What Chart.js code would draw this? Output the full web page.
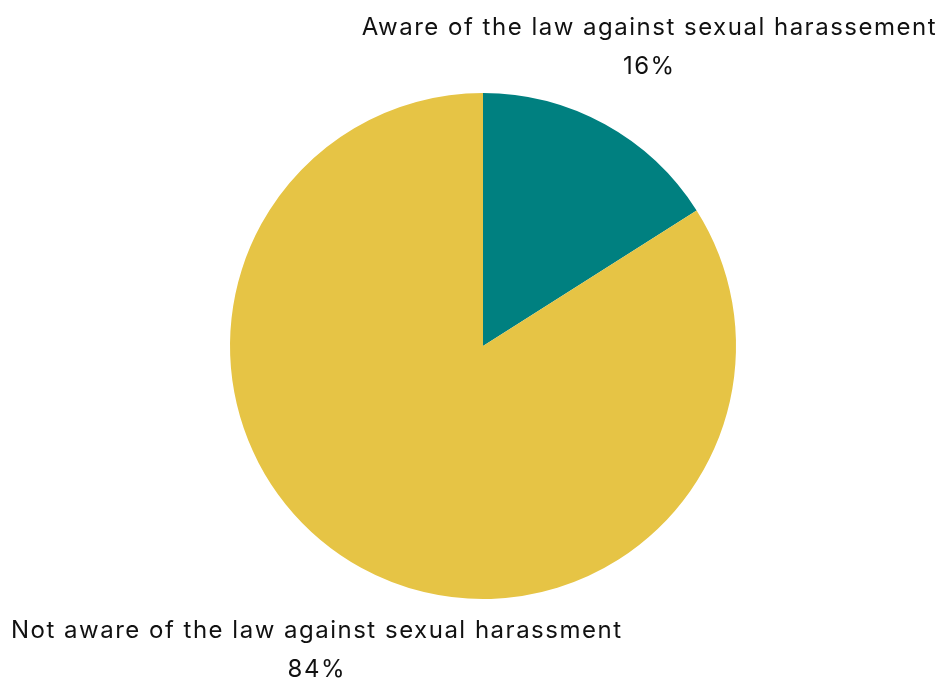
<!DOCTYPE html>
<html>
<head>
<meta charset="utf-8">
<script src="https://cdn.jsdelivr.net/npm/chart.js@4/dist/chart.umd.min.js"></script>
<style>
  html, body { margin: 0; padding: 0; background: #ffffff; }
  #wrap { width: 940px; height: 680px; }
</style>
</head>
<body>
<div id="wrap"><canvas id="c" width="940" height="680"></canvas></div>
<script>
// Awareness of the law against sexual harassment (share of respondents, %)
const categories = [
  'Aware of the law against sexual harassement',
  'Not aware of the law against sexual harassment'
];
const shares = [16, 84];
const sliceColors = ['#008080', '#E6C445'];

const FONT = '24px Inter, "Noto Sans", sans-serif';

// Draws each slice's name and percentage outside the pie, above or below it,
// pushed toward the side of the canvas that the slice faces
const outsideLabels = {
  id: 'outsideLabels',
  afterDatasetsDraw(chart) {
    const ctx = chart.ctx;
    const meta = chart.getDatasetMeta(0);
    const W = chart.width;
    ctx.save();
    ctx.font = FONT;
    ctx.letterSpacing = '1.5px';
    ctx.fillStyle = '#111111';
    ctx.textAlign = 'center';
    ctx.textBaseline = 'middle';
    meta.data.forEach((arc, i) => {
      const p = arc.getProps(['x', 'y', 'startAngle', 'endAngle', 'outerRadius'], true);
      const mid = (p.startAngle + p.endAngle) / 2;
      const lines = [categories[i], shares[i] + '%'];
      const w = Math.max(...lines.map(t => ctx.measureText(t).width));
      const tx = Math.cos(mid) > 0 ? W - w / 2 - 3 : w / 2 + 11;
      const above = Math.sin(mid) < 0;
      const lh = 39;
      const y0 = above ? p.y - p.outerRadius - 26 - lh : p.y + p.outerRadius + 32;
      lines.forEach((t, k) => ctx.fillText(t, tx, y0 + k * lh));
    });
    ctx.restore();
  }
};

new Chart(document.getElementById('c'), {
  type: 'pie',
  data: {
    labels: categories,
    datasets: [{
      data: shares,
      backgroundColor: sliceColors,
      borderWidth: 0
    }]
  },
  options: {
    responsive: false,
    animation: false,
    layout: { padding: { left: 230, right: 204, top: 93, bottom: 81 } },
    plugins: {
      legend: { display: false },
      tooltip: { enabled: false }
    }
  },
  plugins: [outsideLabels]
});
</script>
</body>
</html>
